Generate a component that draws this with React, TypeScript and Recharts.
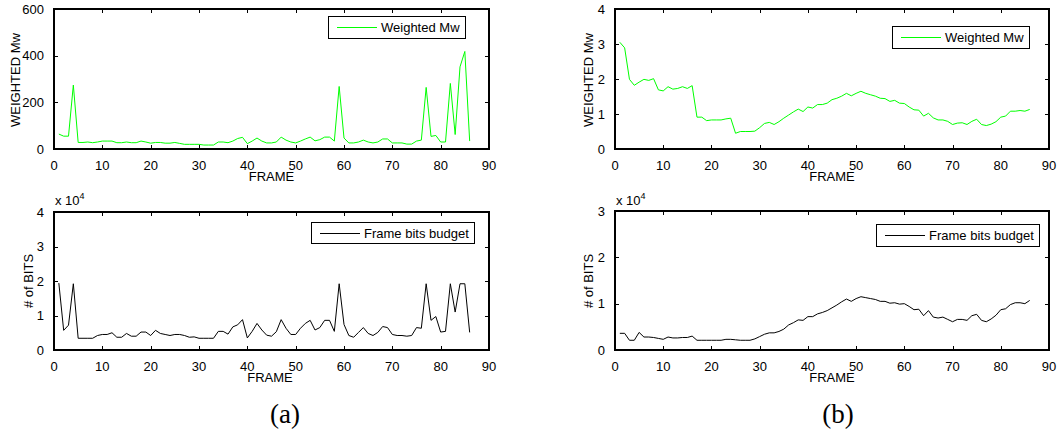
import { LineChart, Line, XAxis, YAxis } from "recharts";

/* ── Data ──────────────────────────────────────────────── */

const FRAMES = [
  1, 2, 3, 4, 5, 6, 7, 8, 9, 10, 11, 12, 13, 14, 15, 16, 17, 18, 19, 20,
  21, 22, 23, 24, 25, 26, 27, 28, 29, 30, 31, 32, 33, 34, 35, 36, 37, 38, 39, 40,
  41, 42, 43, 44, 45, 46, 47, 48, 49, 50, 51, 52, 53, 54, 55, 56, 57, 58, 59, 60,
  61, 62, 63, 64, 65, 66, 67, 68, 69, 70, 71, 72, 73, 74, 75, 76, 77, 78, 79, 80,
  81, 82, 83, 84, 85, 86,
];

// (a) weighted Mw
const MW_A = [
  64, 55, 55, 274, 28, 28, 30, 27, 30, 34, 34, 34, 27, 27, 30, 27, 27, 34, 30, 25,
  28, 28, 25, 25, 28, 24, 20, 20, 20, 20, 17, 17, 17, 30, 30, 27, 34, 45, 50, 23,
  34, 47, 34, 26, 26, 30, 51, 38, 30, 26, 34, 43, 51, 35, 40, 51, 51, 34, 268, 47,
  26, 26, 30, 38, 30, 26, 30, 43, 43, 26, 26, 26, 21, 21, 34, 38, 264, 54, 58, 30,
  30, 281, 62, 352, 418, 34,
];

// (a) frame bits budget
const BITS_A = [
  19400, 5700, 7200, 19200, 3400, 3400, 3400, 3400, 4200, 4500, 4500, 5000, 3700, 3700, 4800, 4000, 4000, 5200, 5200, 4200,
  5700, 4800, 4500, 4200, 4500, 4500, 4200, 3700, 3800, 3400, 3400, 3400, 3400, 5400, 5400, 4600, 6700, 7300, 8800, 3500,
  5400, 7700, 5800, 4300, 4000, 5300, 8800, 6300, 4500, 4500, 6300, 7700, 8600, 5800, 6500, 8600, 8600, 5400, 19200, 7400,
  4200, 3700, 5100, 6500, 4800, 4200, 5100, 6800, 6500, 4500, 4200, 4200, 4000, 4200, 6500, 6300, 19200, 8600, 9700, 5200,
  5400, 19200, 11000, 19200, 19200, 5100,
];

// (b) weighted Mw
const MW_B = [
  3.05, 2.89, 1.99, 1.82, 1.91, 1.99, 1.96, 2.01, 1.69, 1.66, 1.78, 1.71, 1.73, 1.78, 1.73, 1.81, 0.91, 0.91, 0.81, 0.83,
  0.83, 0.83, 0.86, 0.88, 0.45, 0.5, 0.5, 0.5, 0.51, 0.61, 0.73, 0.76, 0.7, 0.78, 0.88, 0.97, 1.06, 1.14, 1.07, 1.2,
  1.17, 1.27, 1.27, 1.31, 1.41, 1.45, 1.51, 1.59, 1.52, 1.59, 1.65, 1.59, 1.55, 1.51, 1.45, 1.44, 1.36, 1.39, 1.31, 1.3,
  1.2, 1.12, 1.11, 0.94, 1.02, 0.89, 0.83, 0.83, 0.79, 0.7, 0.74, 0.75, 0.7, 0.79, 0.85, 0.7, 0.67, 0.71, 0.78, 0.91,
  0.94, 1.08, 1.08, 1.1, 1.08, 1.13,
];

// (b) frame bits budget
const BITS_B = [
  3600, 3600, 2100, 2100, 3800, 2800, 2800, 2700, 2500, 2300, 2800, 2600, 2600, 2700, 2700, 3000, 2100, 2100, 2100, 2100,
  2100, 2100, 2300, 2300, 2200, 2100, 2100, 2100, 2400, 2900, 3400, 3700, 3700, 4000, 4500, 5400, 5900, 6500, 6400, 7200,
  7200, 7800, 8100, 8500, 9100, 9700, 10400, 11000, 10500, 11100, 11500, 11300, 11100, 10900, 10500, 10500, 10100, 10200, 9900, 10000,
  9400, 8700, 8800, 7400, 8500, 7100, 6900, 7100, 6600, 6100, 6600, 6600, 6400, 7400, 7700, 6400, 6100, 6700, 7500, 8700,
  8900, 9800, 10200, 10200, 10000, 10700,
];

const X_MAX = 90;
const X_TICKS = [0, 10, 20, 30, 40, 50, 60, 70, 80, 90];
const MW_A_TICKS = [0, 200, 400, 600];
const MW_B_TICKS = [0, 1, 2, 3, 4];
const BITS_A_TICKS = [0, 10000, 20000, 30000, 40000];
const BITS_B_TICKS = [0, 10000, 20000, 30000];

const toRows = (vals: number[]) => FRAMES.map((f, i) => ({ frame: f, v: vals[i] }));

const GREEN = "#00ff00";
const FONT = "'Liberation Sans', Arial, sans-serif";

/* ── One MATLAB-style subplot ──────────────────────────── */

const PAD_L = 50;
const PAD_T = 12;
const PAD_R = 16;
const PAD_B = 25;
const TICK = 4;

interface PanelProps {
  plotX: number;
  plotY: number;
  plotW: number;
  plotH: number;
  values: number[];
  color: string;
  yMax: number;
  yTicks: number[];
  yFmt?: (v: number) => string;
}

// box + inward ticks on all four sides, like a MATLAB axes
function Frame({ plotX, plotY, plotW, plotH, yMax, yTicks }: PanelProps) {
  const marks = [];
  for (const t of X_TICKS) {
    const px = Math.round(plotX + (t / X_MAX) * plotW);
    marks.push(<div key={`xb${t}`} style={{ position: "absolute", left: px, top: plotY + plotH - TICK, width: 1, height: TICK, background: "#000" }} />);
    marks.push(<div key={`xt${t}`} style={{ position: "absolute", left: px, top: plotY, width: 1, height: TICK, background: "#000" }} />);
  }
  for (const t of yTicks) {
    const py = Math.round(plotY + plotH - (t / yMax) * plotH);
    marks.push(<div key={`yl${t}`} style={{ position: "absolute", left: plotX, top: py, width: TICK, height: 1, background: "#000" }} />);
    marks.push(<div key={`yr${t}`} style={{ position: "absolute", left: plotX + plotW - TICK, top: py, width: TICK, height: 1, background: "#000" }} />);
  }
  return (
    <div style={{ position: "absolute", left: 0, top: 0, width: 1057, height: 437, zIndex: 2, pointerEvents: "none" }}>
      <div
        style={{
          position: "absolute",
          left: plotX - 1,
          top: plotY - 1,
          width: plotW + 2,
          height: plotH + 2,
          boxSizing: "border-box",
          border: "2px solid #000",
        }}
      />
      {marks}
    </div>
  );
}

function Panel(props: PanelProps) {
  const { plotX, plotY, plotW, plotH, values, color, yMax, yTicks, yFmt } = props;
  const tickStyle = { fontSize: 13, fill: "#000", fontFamily: FONT };
  return (
    <>
      <div style={{ position: "absolute", left: plotX - PAD_L, top: plotY - PAD_T, zIndex: 1 }}>
        <LineChart
          width={plotW + PAD_L + PAD_R}
          height={plotH + PAD_T + PAD_B}
          data={toRows(values)}
          margin={{ top: PAD_T, right: PAD_R, left: 0, bottom: 0 }}
        >
          <XAxis
            dataKey="frame"
            type="number"
            domain={[0, X_MAX]}
            ticks={X_TICKS}
            interval={0}
            height={PAD_B}
            tick={tickStyle}
            tickMargin={6}
            axisLine={false}
            tickLine={false}
            allowDataOverflow
          />
          <YAxis
            type="number"
            domain={[0, yMax]}
            ticks={yTicks}
            interval={0}
            width={PAD_L}
            tick={tickStyle}
            tickMargin={4}
            tickFormatter={yFmt}
            axisLine={false}
            tickLine={false}
            allowDataOverflow
          />
          <Line
            type="linear"
            dataKey="v"
            stroke={color}
            strokeWidth={1}
            dot={false}
            isAnimationActive={false}
          />
        </LineChart>
      </div>
      <Frame {...props} />
    </>
  );
}

/* ── Overlay text bits ─────────────────────────────────── */

function Txt({ x, y, text, rotate, size = 13, serif }: {
  x: number; y: number; text: string; rotate?: boolean; size?: number; serif?: boolean;
}) {
  return (
    <div
      style={{
        position: "absolute",
        left: x,
        top: y,
        zIndex: 3,
        transform: `translate(-50%, -50%)${rotate ? " rotate(-90deg)" : ""}`,
        whiteSpace: "nowrap",
        fontSize: size,
        lineHeight: 1,
        fontFamily: serif ? "'Liberation Serif', 'Times New Roman', serif" : FONT,
        color: "#000",
      }}
    >
      {text}
    </div>
  );
}

function LegendBox({ x, y, w, h, color, label }: {
  x: number; y: number; w: number; h: number; color: string; label: string;
}) {
  return (
    <div
      style={{
        position: "absolute",
        left: x,
        top: y,
        width: w,
        height: h,
        zIndex: 3,
        boxSizing: "border-box",
        border: "1px solid #000",
        background: "#fff",
        display: "flex",
        alignItems: "center",
        fontFamily: FONT,
        fontSize: 13,
      }}
    >
      <div style={{ marginLeft: 8, width: 40, height: 1, background: color }} />
      <span style={{ marginLeft: 4 }}>{label}</span>
    </div>
  );
}

function Exponent({ x, y }: { x: number; y: number }) {
  return (
    <div style={{ position: "absolute", left: x, top: y, zIndex: 3, fontFamily: FONT, fontSize: 13, lineHeight: 1 }}>
      x 10<sup style={{ fontSize: 9, position: "relative", top: -1 }}>4</sup>
    </div>
  );
}

export default function App() {
  const bitsFmt = (v: number) => String(v / 10000);
  return (
    <div style={{ position: "absolute", left: 0, top: 0, width: 1057, height: 437, background: "#fff", overflow: "hidden" }}>
      <Panel plotX={54} plotY={9} plotW={435} plotH={140} values={MW_A} color={GREEN} yMax={600} yTicks={MW_A_TICKS} />
      <Panel plotX={54} plotY={212} plotW={435} plotH={138} values={BITS_A} color="#000" yMax={40000} yTicks={BITS_A_TICKS} yFmt={bitsFmt} />
      <Panel plotX={615} plotY={9} plotW={434} plotH={140} values={MW_B} color={GREEN} yMax={4} yTicks={MW_B_TICKS} />
      <Panel plotX={615} plotY={211} plotW={434} plotH={139} values={BITS_B} color="#000" yMax={30000} yTicks={BITS_B_TICKS} yFmt={bitsFmt} />

      <Txt x={14.5} y={80} text="WEIGHTED Mw" rotate />
      <Txt x={588} y={80} text="WEIGHTED Mw" rotate />
      <Txt x={28} y={281} text="# of BITS" rotate />
      <Txt x={588} y={281} text="# of BITS" rotate />

      <Txt x={271.5} y={176} text="FRAME" />
      <Txt x={832} y={176} text="FRAME" />
      <Txt x={270} y={377} text="FRAME" />
      <Txt x={832} y={377} text="FRAME" />

      <Exponent x={55} y={193} />
      <Exponent x={616} y={193} />

      <LegendBox x={328} y={16} w={138} h={23} color={GREEN} label="Weighted Mw" />
      <LegendBox x={892} y={26} w={138} h={23} color={GREEN} label="Weighted Mw" />
      <LegendBox x={311} y={222} w={164} h={22} color="#000" label="Frame bits budget" />
      <LegendBox x={876} y={224} w={164} h={23} color="#000" label="Frame bits budget" />

      <Txt x={285} y={414} text="(a)" size={27} serif />
      <Txt x={838} y={414} text="(b)" size={27} serif />
    </div>
  );
}
